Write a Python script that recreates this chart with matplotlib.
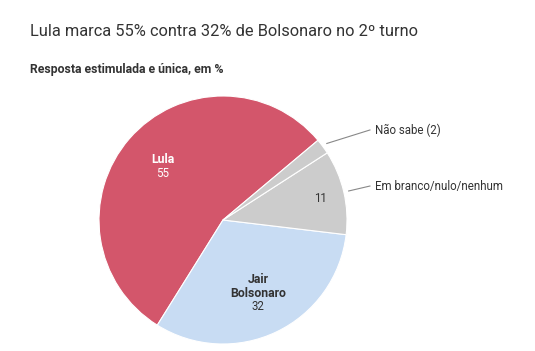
import numpy as np
import matplotlib
matplotlib.use("Agg")
import matplotlib.pyplot as plt

# dados
categorias = ["Lula", "Jair\nBolsonaro", "Em branco/nulo/nenhum", "Não sabe"]
valores = [55, 32, 11, 2]
cores = ["#d3566b", "#c8dcf3", "#cccccc", "#cccccc"]

plt.rcParams["font.family"] = ["Roboto", "DejaVu Sans"]

fig = plt.figure(figsize=(5.35, 3.51), dpi=100)
fig.patch.set_facecolor("white")

fig.text(30 / 535, 1 - 31 / 351, "Lula marca 55% contra 32% de Bolsonaro no 2º turno",
         fontsize=11.8, color="#333333", va="center", ha="left")
fig.text(30 / 535, 1 - 69 / 351, "Resposta estimulada e única, em %",
         fontsize=8.8, color="#333333", va="center", ha="left", fontweight="bold")

ax = fig.add_axes([(223 - 124) / 535, (351 - 220 - 124) / 351, 248 / 535, 248 / 351])
wedges, _ = ax.pie(valores, colors=cores, startangle=40, counterclock=True,
                   wedgeprops=dict(edgecolor="white", linewidth=0.8))
ax.set_xlim(-1, 1)
ax.set_ylim(-1, 1)
ax.set_aspect("equal")
ax.axis("off")

# rótulos internos
ax.text(-0.484, 0.484, "Lula", color="white", fontsize=8.8, fontweight="bold", ha="center", va="center")
ax.text(-0.484, 0.371, str(valores[0]), color="white", fontsize=8.3, ha="center", va="center")
ax.text(0.282, -0.535, categorias[1], color="#333333", fontsize=8.8, fontweight="bold",
        ha="center", va="center", linespacing=1.1)
ax.text(0.282, -0.70, str(valores[1]), color="#333333", fontsize=8.3, ha="center", va="center")
ax.text(0.782, 0.177, str(valores[2]), color="#333333", fontsize=8.3, ha="center", va="center")

# rótulos externos com linha guia
externos = [(3, "Não sabe (2)", 0.726), (2, "Em branco/nulo/nenhum", 0.274)]
for i, txt, ty in externos:
    w = wedges[i]
    ang = np.deg2rad((w.theta1 + w.theta2) / 2)
    x0, y0 = 1.04 * np.cos(ang), 1.04 * np.sin(ang)
    ax.plot([x0, 1.185], [y0, ty], color="#888888", lw=0.8, clip_on=False)
    ax.text(1.226, ty, txt, color="#333333", fontsize=8.3, ha="left", va="center", clip_on=False)

fig.savefig("out.png", dpi=100, facecolor="white")
